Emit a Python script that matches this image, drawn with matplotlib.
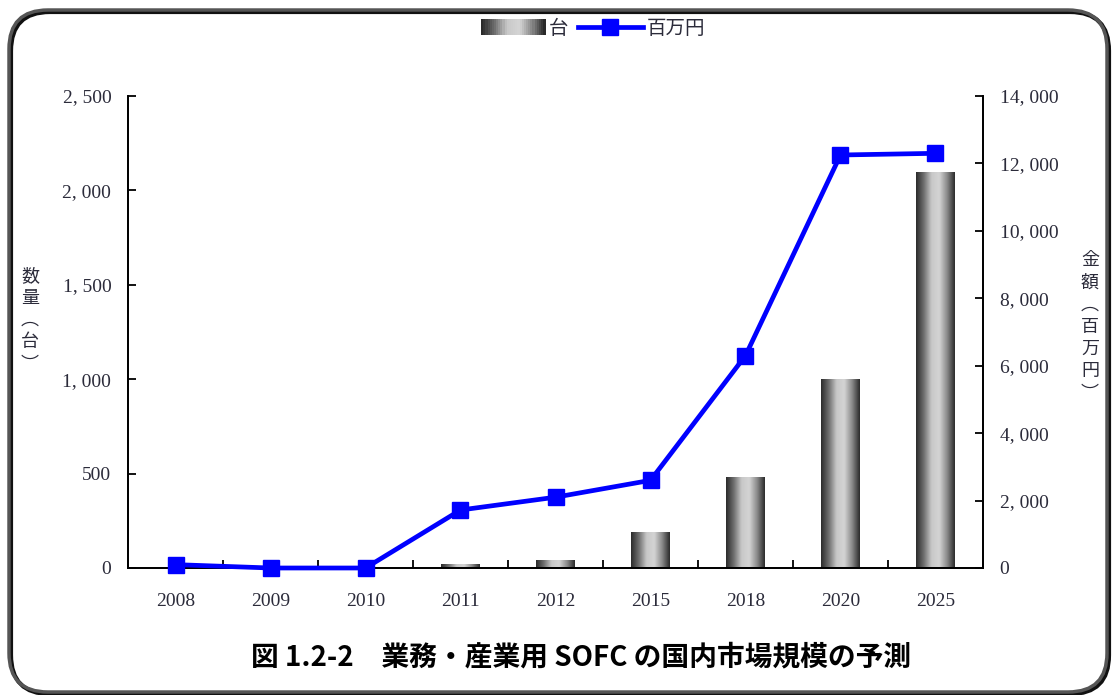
import numpy as np
import matplotlib
matplotlib.use("Agg")
import matplotlib.pyplot as plt
from matplotlib.patches import FancyBboxPatch, Rectangle
from matplotlib.colors import LinearSegmentedColormap
from matplotlib.legend_handler import HandlerBase
from matplotlib.ticker import FixedLocator, FuncFormatter

years = ["2008", "2009", "2010", "2011", "2012", "2015", "2018", "2020", "2025"]
units = [0, 0, 0, 20, 40, 190, 480, 1000, 2100]            # 台
amount = [100, 0, 0, 1720, 2100, 2600, 6300, 12250, 12300]  # 百万円

left_ticks = [0, 500, 1000, 1500, 2000, 2500]
right_ticks = [0, 2000, 4000, 6000, 8000, 10000, 12000, 14000]

CJK = ["Noto Sans CJK JP", "DejaVu Sans"]
SERIF = ["Liberation Serif", "DejaVu Serif"]
TXT = "#2b2b3a"

cyl = LinearSegmentedColormap.from_list(
    "cyl", ["#2a2a2a", "#6e6e6e", "#c8c8c8", "#d4d4d4", "#8a8a8a", "#2a2a2a"])
grad = np.linspace(0, 1, 256).reshape(1, -1)

W, H = 1112, 695
fig = plt.figure(figsize=(W / 100, H / 100), dpi=100)
ax = fig.add_axes([128 / W, (H - 568) / H, 855 / W, 472 / H])
ax2 = ax.twinx()

x = np.arange(len(years))
bw = 0.41

# cylinder-shaded bars
for xi, v in zip(x, units):
    if v <= 0:
        continue
    rect = Rectangle((xi - bw / 2, 0), bw, v, facecolor="none", edgecolor="none")
    ax.add_patch(rect)
    im = ax.imshow(grad, cmap=cyl, aspect="auto", interpolation="bicubic",
                   extent=(xi - bw / 2, xi + bw / 2, 0, v), zorder=2)
    im.set_clip_path(rect)
ax.set_xlim(-0.5, len(years) - 0.5)
ax.set_ylim(0, 2500)
ax2.set_ylim(0, 14000)

ax2.plot(x, amount, color="#0000ff", lw=3.4, marker="s", ms=12,
         markerfacecolor="#0000ff", markeredgecolor="#0000ff", zorder=5,
         clip_on=False)

# axes styling
for a in (ax, ax2):
    a.spines["top"].set_visible(False)
    for s in ("left", "right", "bottom"):
        a.spines[s].set_linewidth(1.3)
        a.spines[s].set_color("black")
ax.set_facecolor("none")

fmt = FuncFormatter(lambda v, p: f"{int(v):,}".replace(",", ", "))
ax.yaxis.set_major_locator(FixedLocator(left_ticks))
ax.yaxis.set_major_formatter(fmt)
ax2.yaxis.set_major_locator(FixedLocator(right_ticks))
ax2.yaxis.set_major_formatter(fmt)
ax.tick_params(axis="y", direction="in", length=6, width=1.3, pad=12, labelcolor=TXT)
ax2.tick_params(axis="y", direction="in", length=6, width=1.3, pad=12, labelcolor=TXT)

ax.set_xticks(x)
ax.set_xticklabels(years)
ax.set_xticks(np.arange(-0.5, len(years), 1.0), minor=True)
ax.tick_params(axis="x", which="major", length=0, pad=18, labelcolor=TXT)
ax.tick_params(axis="x", which="minor", direction="in", length=6, width=1.3)

for lab in ax.get_xticklabels() + ax.get_yticklabels() + ax2.get_yticklabels():
    lab.set_fontfamily(SERIF)
    lab.set_fontsize(14)

# vertical axis titles
fig.text(30 / W, 1 - 320 / H, "数\n量\n︵\n台\n︶", family=CJK, fontsize=13,
         color=TXT, ha="center", va="center", linespacing=1.3)
fig.text(1090 / W, 1 - 327 / H, "金\n額\n︵\n百\n万\n円\n︶", family=CJK,
         fontsize=13, color=TXT, ha="center", va="center", linespacing=1.3)


# legend with a shaded swatch
class GradHandler(HandlerBase):
    def create_artists(self, legend, orig, xd, yd, w, h, fontsize, trans):
        n = 30
        arts = []
        for i in range(n):
            r = Rectangle((xd + w * i / n, yd - 1), w / n + 0.3, h + 2,
                          facecolor=cyl(i / (n - 1)), edgecolor="none",
                          transform=trans)
            arts.append(r)
        return arts


bar_proxy = Rectangle((0, 0), 1, 1)
line_proxy, = ax2.plot([], [], color="#0000ff", lw=3.4, marker="s", ms=11)
leg = fig.legend([bar_proxy, line_proxy], ["台", "百万円"], loc="center",
                 bbox_to_anchor=(593 / W, 1 - 28 / H), ncol=2, frameon=False,
                 prop={"family": CJK, "size": 14}, handlelength=3.3,
                 columnspacing=0.5, handletextpad=0.2,
                 handler_map={Rectangle: GradHandler()})
for t in leg.get_texts():
    t.set_color(TXT)

# caption
fig.text(581 / W, 1 - 657 / H, "図 1.2-2　業務・産業用 SOFC の国内市場規模の予測",
         family=CJK, fontsize=20, fontweight="bold", ha="center", va="center",
         color="black")

# rounded frame around the figure, with a slight shadow
fx0, fy0, fw, fh = 9 / W, 3 / H, 1098 / W, 682 / H
shadow = FancyBboxPatch((fx0 + 2 / W, fy0 - 2 / H), fw, fh,
                        boxstyle="round,pad=0,rounding_size=0.035",
                        transform=fig.transFigure, facecolor="none",
                        edgecolor="#111111", linewidth=3.0, mutation_aspect=1.6)
frame = FancyBboxPatch((fx0, fy0), fw, fh,
                       boxstyle="round,pad=0,rounding_size=0.035",
                       transform=fig.transFigure, facecolor="none",
                       edgecolor="#555555", linewidth=2.5, mutation_aspect=1.6)
fig.patches.append(shadow)
fig.patches.append(frame)

fig.savefig("out.png", dpi=100)
